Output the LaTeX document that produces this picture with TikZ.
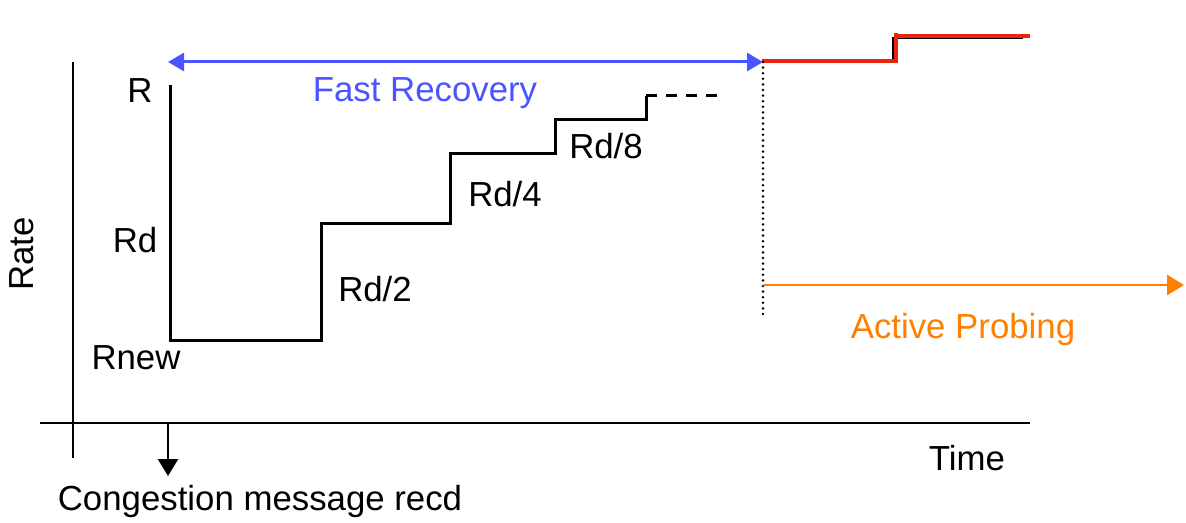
\documentclass[tikz,border=0pt]{standalone}
\usepackage{fontspec}
\setmainfont{Liberation Sans}
\usetikzlibrary{arrows.meta}
\definecolor{fastblue}{RGB}{74,85,255}
\definecolor{probeorange}{RGB}{255,128,0}
\definecolor{ratered}{RGB}{235,35,15}
\tikzset{
  lbl/.style={font=\fontsize{17.4bp}{20bp}\selectfont,inner sep=0pt,anchor=base},
  axis/.style={line width=1.2bp},
  stair/.style={line width=1.5bp},
  tipend/.style={-{Triangle[length=8.5bp,width=10bp]}},
}
\begin{document}
\begin{tikzpicture}[x=0.5bp,y=-0.5bp,line join=miter]
  \useasboundingbox (0,0) rectangle (1186,523);
%%
  % Coordinates: axes
  \coordinate (ytop) at (73,62);
  \coordinate (ybot) at (73,458);
  \coordinate (xleft) at (40,423);
  \coordinate (xright) at (1030,423);
  \coordinate (cong) at (168,423);
  \coordinate (congend) at (168,476);
  % Coordinates: phases
  \coordinate (fr0) at (168,62);
  \coordinate (fr1) at (763,62);
  \coordinate (ap0) at (763,285);
  \coordinate (ap1) at (1184,285);
  \coordinate (split) at (763,315);
  % Edge: axes
  \draw [axis] (ytop) -- (ybot);
  \draw [axis] (xleft) -- (xright);
  \draw [axis,tipend] (cong) -- (congend);
  % Edge: fast recovery rate
  \draw [stair] (170,85) -- (170,340) -- (321,340) -- (321,224) -- (450,224)
    -- (450,154) -- (555,154) -- (555,120) -- (646,120) -- (646,96);
  \draw [stair,dash pattern=on 5.5bp off 4.5bp] (646,96) -- (717,96);
  % Edge: probing rate
  \draw [line width=1.2bp] (893,61) -- (893,38) -- (1023,38);
  \draw [line width=2bp,ratered] (762,61) -- (896,61) -- (896,33);
  \draw [line width=2bp,ratered] (896,36) -- (1030,36);
  % Edge: phase arrows
  \draw [line width=1.5bp,fastblue,{Triangle[length=8bp,width=9bp]}-{Triangle[length=8bp,width=9bp]}] (fr0) -- (fr1);
  \draw [line width=1.4bp,line cap=round,dash pattern=on 0bp off 2.8bp] (fr1) -- (split);
  \draw [line width=1.4bp,probeorange,tipend] (ap0) -- (ap1);
  % Node: labels
  \node [lbl] (r) at (140,103) {R};
  \node [lbl] (rd) at (135,253) {Rd};
  \node [lbl] (rnew) at (136,369) {Rnew};
  \node [lbl] (rd2) at (375,301) {Rd/2};
  \node [lbl] (rd4) at (505,207) {Rd/4};
  \node [lbl] (rd8) at (606,159) {Rd/8};
  \node [lbl,fastblue] (fast) at (425,102) {Fast Recovery};
  \node [lbl,probeorange] (probe) at (963,338) {Active Probing};
  \node [lbl] (time) at (967,470) {Time};
  \node [lbl] (msg) at (260,510) {Congestion message recd};
  \node [lbl,anchor=center,rotate=90] (rate) at (22,254) {Rate};
%
\end{tikzpicture}
\end{document}
